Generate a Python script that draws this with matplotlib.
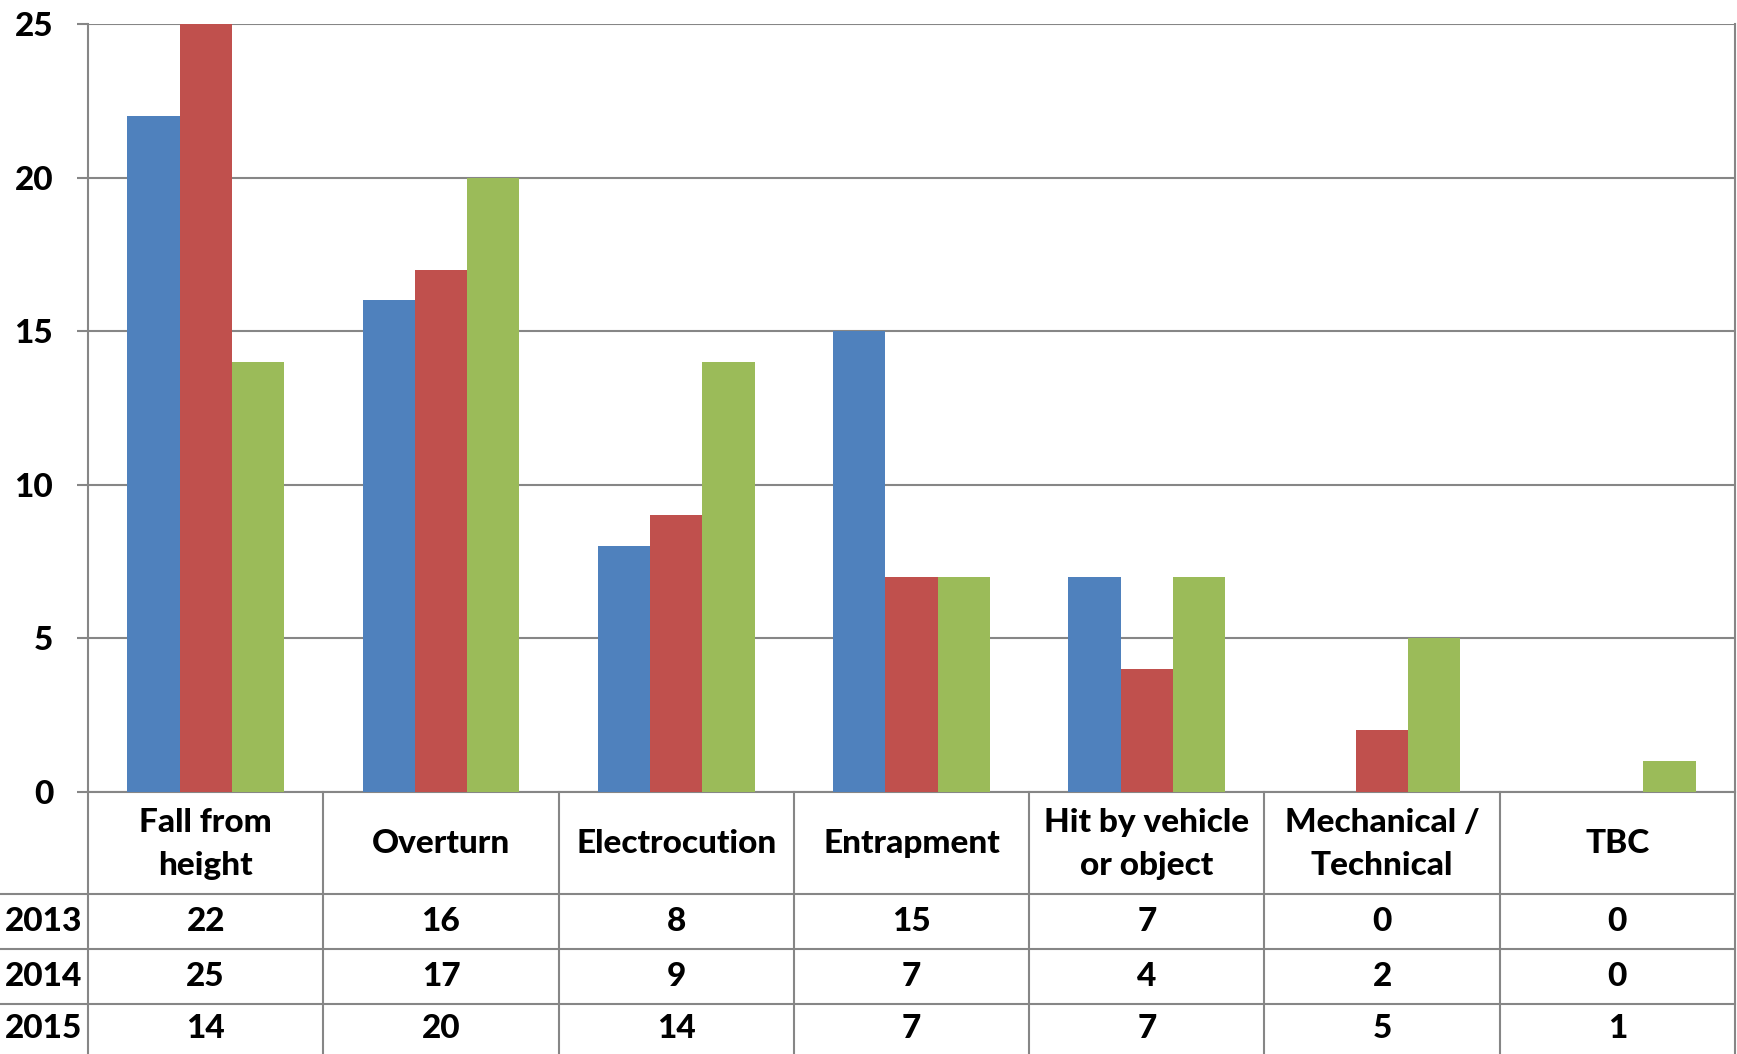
import matplotlib
matplotlib.use("Agg")
import matplotlib.pyplot as plt
import numpy as np

categories = ["Fall from\nheight", "Overturn", "Electrocution", "Entrapment",
              "Hit by vehicle\nor object", "Mechanical /\nTechnical", "TBC"]
years = ["2013", "2014", "2015"]
v2013 = [22, 16, 8, 15, 7, 0, 0]
v2014 = [25, 17, 9, 7, 4, 2, 0]
v2015 = [14, 20, 14, 7, 7, 5, 1]
yticks = [0, 5, 10, 15, 20, 25]
colors = ["#4F81BD", "#C0504D", "#9BBB59"]

series = [v2013, v2014, v2015]

FONT = "Lato"
FS = 24
FW = 900
GRID = "#868686"

W, H = 1737, 1054
fig = plt.figure(figsize=(W / 100, H / 100), dpi=100)

left_px, right_px = 88, 1735
top_px, zero_px = 24, 791.7
row_bottoms = [894, 949, 1003.5, 1054]

ax = fig.add_axes([left_px / W, 1 - zero_px / H, (right_px - left_px) / W, (zero_px - top_px) / H])
n = len(categories)
x = np.arange(n)
bw = 0.222
for i, (vals, c) in enumerate(zip(series, colors)):
    ax.bar(x + (i - 1) * bw, vals, width=bw, color=c, zorder=3)
ax.set_xlim(-0.5, n - 0.5)
ax.set_ylim(0, 25)
ax.set_yticks(yticks)
ax.set_yticklabels([str(t) for t in yticks], fontsize=FS, fontweight=FW, family=FONT)
ax.tick_params(axis="y", length=8, width=1.5, color=GRID, pad=17)
ax.set_xticks([])
ax.grid(axis="y", color=GRID, linewidth=1.5, zorder=0)
ax.spines["top"].set_visible(False)
for s in ["left", "right", "bottom"]:
    ax.spines[s].set_color(GRID)
    ax.spines[s].set_linewidth(1.5)

# Data table overlay in pixel coordinates
tax = fig.add_axes([0, 0, 1, 1], zorder=5)
tax.set_xlim(0, W)
tax.set_ylim(H, 0)
tax.axis("off")
colw = (right_px - left_px) / n
lw = 1.5
for yb in row_bottoms[:-1]:
    tax.plot([0, right_px], [yb, yb], color=GRID, lw=lw)
for k in range(n + 1):
    xv = left_px + k * colw
    tax.plot([xv, xv], [zero_px, H], color=GRID, lw=lw)
hc = (zero_px + row_bottoms[0]) / 2
for k, cat in enumerate(categories):
    tax.text(left_px + (k + 0.5) * colw, hc + 1, cat, ha="center", va="center",
             fontsize=FS, fontweight=FW, family=FONT, linespacing=1.6)
for r, (yr, vals) in enumerate(zip(years, series)):
    yc = (row_bottoms[r] + row_bottoms[r + 1]) / 2
    tax.text(5, yc, yr, ha="left", va="center", fontsize=FS, fontweight=FW, family=FONT)
    for k, v in enumerate(vals):
        tax.text(left_px + (k + 0.5) * colw, yc, str(v), ha="center", va="center",
                 fontsize=FS, fontweight=FW, family=FONT)

fig.savefig("out.png", dpi=100)
